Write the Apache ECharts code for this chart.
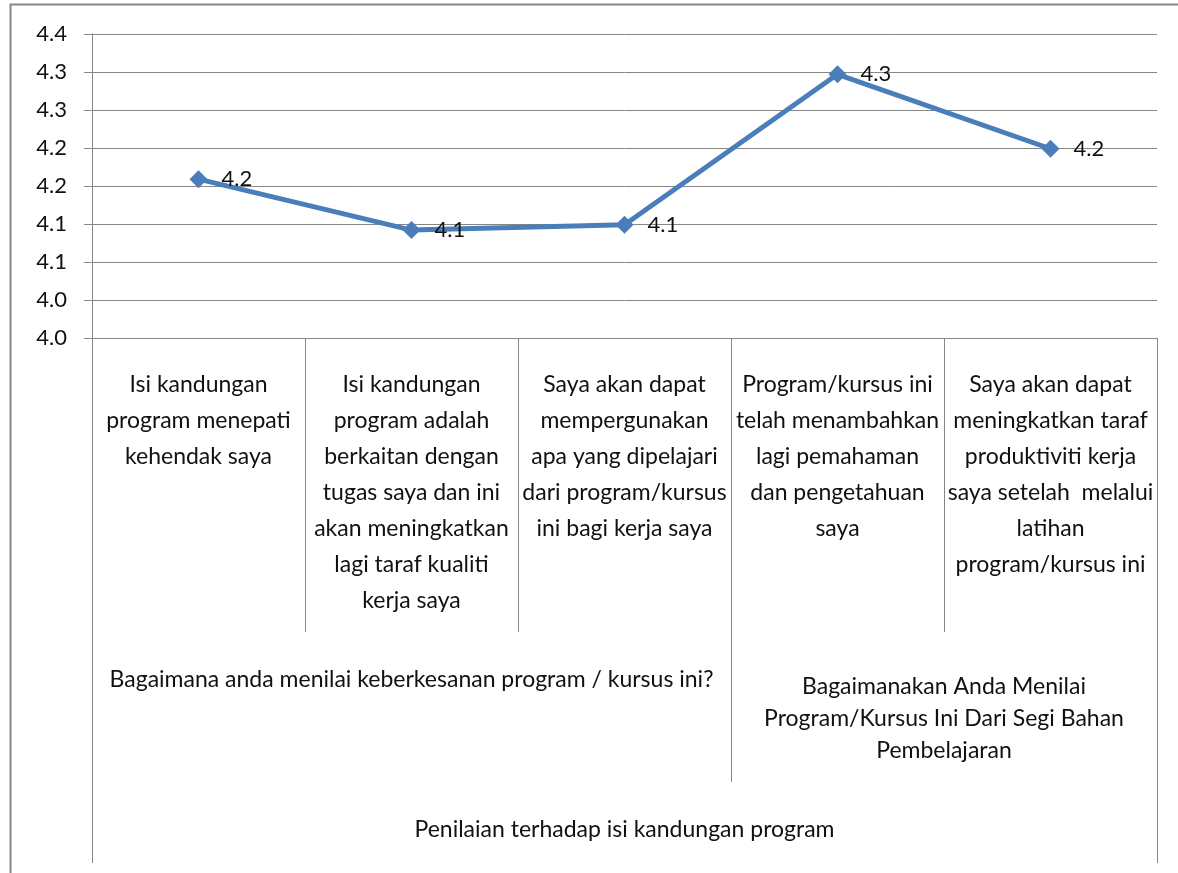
<!DOCTYPE html>
<html>
<head>
<meta charset="utf-8">
<script src="https://cdn.jsdelivr.net/npm/echarts@6/dist/echarts.min.js"></script>
<style>
html,body{margin:0;padding:0;background:#fff;}
#chart{width:1178px;height:873px;}
</style>
</head>
<body>
<div id="chart"></div>
<script>
// ---- data ----
const categories = [
  "Isi kandungan\nprogram menepati\nkehendak saya",
  "Isi kandungan\nprogram adalah\nberkaitan dengan\ntugas saya dan ini\nakan meningkatkan\nlagi taraf kualiti\nkerja saya",
  "Saya akan dapat\nmempergunakan\napa yang dipelajari\ndari program/kursus\nini bagi kerja saya",
  "Program/kursus ini\ntelah menambahkan\nlagi pemahaman\ndan pengetahuan\nsaya",
  "Saya akan dapat\nmeningkatkan taraf\nproduktiviti kerja\nsaya setelah  melalui\nlatihan\nprogram/kursus ini"
];
const values = [4.209, 4.142, 4.149, 4.347, 4.249];
const groupLevel2Left = "Bagaimana anda menilai keberkesanan program / kursus ini?";
const groupLevel2Right = "Bagaimanakan Anda Menilai\nProgram/Kursus Ini Dari Segi Bahan\nPembelajaran";
const groupLevel3 = "Penilaian terhadap isi kandungan program";
const yTickLabels = ["4.0","4.0","4.1","4.1","4.2","4.2","4.3","4.3","4.4"];

// ---- chart ----
const FONT = "Lato";
const GRAY = "#868686";
const TXT = "#111111";
const chart = echarts.init(document.getElementById('chart'), null, {renderer: 'canvas'});

function groupAxis(offset, tickVals, tickLen, labelVals, labelText, margin, lineHeight) {
  return {
    type: 'value', min: 0, max: 5, position: 'bottom', offset: offset,
    axisLine: {show: false},
    splitLine: {show: false},
    axisTick: {show: true, customValues: tickVals, length: tickLen, inside: false,
      lineStyle: {color: GRAY, width: 1}},
    axisLabel: {show: true, customValues: labelVals, margin: margin,
      formatter: function(){ return labelText; },
      fontFamily: FONT, fontSize: 23, color: TXT, lineHeight: lineHeight, align: 'center'}
  };
}

const option = {
  animation: false,
  backgroundColor: '#fff',
  graphic: [{
    type: 'rect', left: 8, top: 2, shape: {x: 0, y: 0, width: 1169, height: 900},
    style: {fill: 'none', stroke: GRAY, lineWidth: 2}, silent: true, z: -1
  }],
  grid: {left: 92, right: 21, top: 34, bottom: 535, containLabel: false},
  xAxis: [
    {
      type: 'category', data: categories, boundaryGap: true, position: 'bottom',
      axisLine: {show: true, lineStyle: {color: GRAY, width: 1}},
      axisTick: {show: true, interval: 0, length: 294, lineStyle: {color: GRAY, width: 1}},
      axisLabel: {interval: 0, margin: 29, fontFamily: FONT, fontSize: 23, color: TXT, lineHeight: 36, align: 'center'},
      splitLine: {show: false}
    },
    groupAxis(294, [0, 5], 150, [1.5], groupLevel2Left, 32, 32),
    groupAxis(294, [3], 150, [4], groupLevel2Right, 39, 32),
    groupAxis(444, [0, 5], 81, [2.5], groupLevel3, 32, 32)
  ],
  yAxis: {
    type: 'value', min: 4.0, max: 4.4, interval: 0.05,
    axisLine: {show: true, lineStyle: {color: GRAY, width: 1}},
    axisTick: {show: true, length: 8, lineStyle: {color: GRAY, width: 1}},
    splitLine: {show: true, lineStyle: {color: GRAY, width: 1}},
    axisLabel: {
      margin: 25, fontFamily: FONT, fontSize: 22, color: TXT,
      formatter: function(v){ return yTickLabels[Math.round((v - 4.0) / 0.05)]; }
    }
  },
  series: [{
    type: 'line', data: values, xAxisIndex: 0,
    symbol: 'diamond', symbolSize: 18,
    lineStyle: {color: '#4A7EBB', width: 5},
    itemStyle: {color: '#4A7EBB'},
    label: {show: true, position: 'right', distance: 14, fontFamily: FONT, fontSize: 22, color: TXT,
      formatter: function(p){ return p.value.toFixed(1); }}
  }]
};
chart.setOption(option);
</script>
</body>
</html>
